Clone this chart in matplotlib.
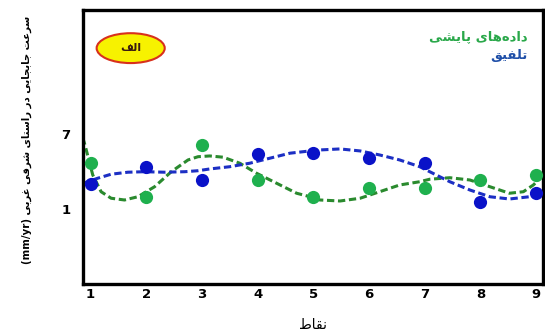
import numpy as np
import matplotlib
matplotlib.use("Agg")
import matplotlib.pyplot as plt
from matplotlib.patches import Ellipse

# ========== data ==========
points = [1, 2, 3, 4, 5, 6, 7, 8, 9]
observed = [4.70, 1.94, 6.14, 3.32, 1.94, 2.66, 2.66, 3.32, 3.72]   # green dots
combined = [3.00, 4.38, 3.32, 5.42, 5.46, 5.10, 4.70, 1.58, 2.30]   # blue dots

# trend curves
green_cx = [0.86, 0.90, 1.04, 1.19, 1.37, 1.61, 1.85, 2.15, 2.45, 2.75, 2.93,
            3.14, 3.38, 3.68, 3.98, 4.34, 4.70, 4.94, 5.12, 5.48, 5.84, 6.19,
            6.55, 6.91, 7.09, 7.45, 7.81, 8.17, 8.52, 8.77, 8.95, 9.10]
green_cy = [6.70, 6.12, 3.72, 2.38, 1.86, 1.72, 1.98, 2.78, 3.98, 4.92, 5.18,
            5.24, 5.14, 4.66, 3.86, 3.06, 2.26, 1.98, 1.72, 1.64, 1.86, 2.38,
            2.92, 3.18, 3.38, 3.50, 3.32, 2.78, 2.26, 2.38, 2.92, 3.58]
blue_cx = [0.86, 0.95, 1.13, 1.37, 1.67, 1.97, 2.33, 2.69, 2.93, 3.14, 3.50,
           3.86, 4.22, 4.58, 4.94, 5.12, 5.48, 5.84, 6.19, 6.55, 6.91, 7.09,
           7.45, 7.81, 8.17, 8.52, 8.88, 9.10]
blue_cy = [3.05, 3.18, 3.46, 3.78, 3.94, 3.98, 3.94, 3.98, 4.06, 4.20, 4.38,
           4.66, 5.06, 5.46, 5.64, 5.72, 5.80, 5.64, 5.32, 4.92, 4.38, 3.98,
           3.18, 2.52, 1.98, 1.80, 1.98, 2.26]

yticks = [7, 1]

# ========== persian text shaping (matplotlib has no RTL layout) ==========
FORMS = {  # isolated, final, initial, medial
    'ا': ('\uFE8D', '\uFE8E', None, None),
    'ب': ('\uFE8F', '\uFE90', '\uFE91', '\uFE92'),
    'پ': ('\uFB56', '\uFB57', '\uFB58', '\uFB59'),
    'ت': ('\uFE95', '\uFE96', '\uFE97', '\uFE98'),
    'ج': ('\uFE9D', '\uFE9E', '\uFE9F', '\uFEA0'),
    'د': ('\uFEA9', '\uFEAA', None, None),
    'ر': ('\uFEAD', '\uFEAE', None, None),
    'س': ('\uFEB1', '\uFEB2', '\uFEB3', '\uFEB4'),
    'ش': ('\uFEB5', '\uFEB6', '\uFEB7', '\uFEB8'),
    'ط': ('\uFEC1', '\uFEC2', '\uFEC3', '\uFEC4'),
    'ع': ('\uFEC9', '\uFECA', '\uFECB', '\uFECC'),
    'غ': ('\uFECD', '\uFECE', '\uFECF', '\uFED0'),
    'ف': ('\uFED1', '\uFED2', '\uFED3', '\uFED4'),
    'ق': ('\uFED5', '\uFED6', '\uFED7', '\uFED8'),
    'ل': ('\uFEDD', '\uFEDE', '\uFEDF', '\uFEE0'),
    'ن': ('\uFEE5', '\uFEE6', '\uFEE7', '\uFEE8'),
    'ه': ('\uFEE9', '\uFEEA', '\uFEEB', '\uFEEC'),
    'ی': ('\uFBFC', '\uFBFD', '\uFBFE', '\uFBFF'),
}


def fa(s):
    out = []
    for i, c in enumerate(s):
        if c not in FORMS:
            if c != '\u200c':
                out.append(c)
            continue
        prev = s[i - 1] if i > 0 else ''
        nxt = s[i + 1] if i + 1 < len(s) else ''
        jp = prev in FORMS and FORMS[prev][2] is not None
        jn = FORMS[c][2] is not None and nxt in FORMS
        f = FORMS[c]
        out.append(f[3] if jp and jn else f[1] if jp else f[2] if jn else f[0])
    return ''.join(reversed(out))


# ========== plot ==========
fig = plt.figure(figsize=(5.45, 3.35), dpi=100)
ax = fig.add_axes([0.152, 0.152, 0.844, 0.818])

ax.plot(green_cx, green_cy, '--', color='#2a8a2e', lw=2.2, dashes=(2.4, 1.2), zorder=2)
ax.plot(blue_cx, blue_cy, '--', color='#1c2fc4', lw=2.2, dashes=(2.4, 1.2), zorder=2)
ax.plot(points, observed, 'o', color='#1fb04e', ms=9.5, mec='none', zorder=3)
ax.plot(points, combined, 'o', color='#0a12c8', ms=9.5, mec='none', zorder=3)

ax.set_xlim(0.862, 9.12)
ax.set_ylim(-5.0, 16.9)
ax.set_xticks(points)
ax.set_yticks(yticks)
ax.tick_params(length=0, labelsize=9.5)
ax.tick_params(axis='x', pad=3)
ax.tick_params(axis='y', pad=9)
for lab in ax.get_xticklabels() + ax.get_yticklabels():
    lab.set_fontweight('bold')
for sp in ax.spines.values():
    sp.set_linewidth(2.4)

# badge
ax.add_patch(Ellipse((0.104, 0.861), 0.148, 0.109, transform=ax.transAxes,
                     facecolor='#f7f200', edgecolor='#d8301c', lw=1.5, zorder=4))
ax.text(0.104, 0.861, fa('الف'), transform=ax.transAxes, ha='center', va='center',
        fontsize=8, fontweight='bold', color='#3a1a10', zorder=5)

# legend text
ax.text(0.967, 0.905, fa('داده\u200cهای پایشی'), transform=ax.transAxes, ha='right',
        va='center', fontsize=9.5, fontweight='bold', color='#2aa84a')
ax.text(0.967, 0.835, fa('تلفیق'), transform=ax.transAxes, ha='right',
        va='center', fontsize=9.5, fontweight='bold', color='#1f4fa8')

fig.text(313 / 545, 1 - 325 / 335, fa('نقاط'), ha='center', va='center', fontsize=10)
fig.text(27 / 545, 1 - 140 / 335, '(mm/yr) ' + fa('سرعت جابجایی در راستای شرقی غربی'),
         rotation=90, ha='center', va='center', fontsize=7.3, fontweight='bold')

fig.savefig('out.png', dpi=100)
